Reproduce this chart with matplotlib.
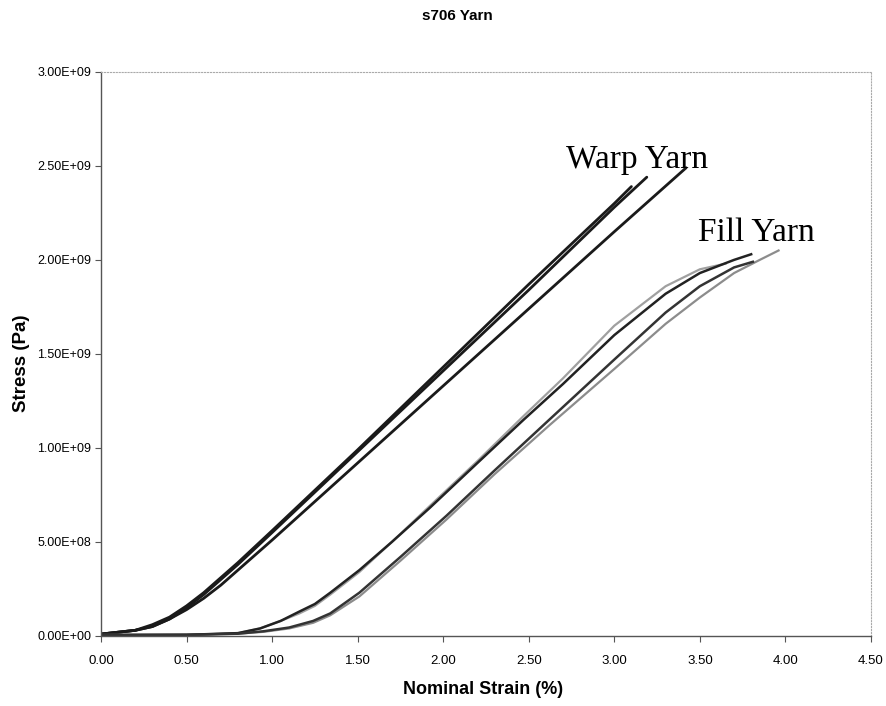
import numpy as np
import matplotlib
matplotlib.use("Agg")
import matplotlib.pyplot as plt
from matplotlib.ticker import FuncFormatter, MultipleLocator

# Warp yarn curves (strain %, stress in 1e9 Pa)
warp1_x = [0.0, 0.1, 0.2, 0.3, 0.4, 0.5, 0.6, 0.7, 0.8, 1.0, 1.5, 2.0, 2.5, 3.0, 3.10]
warp1_y = [0.01, 0.02, 0.03, 0.06, 0.10, 0.16, 0.23, 0.31, 0.39, 0.56, 0.99, 1.43, 1.87, 2.30, 2.39]
warp2_x = [0.0, 0.1, 0.2, 0.3, 0.4, 0.5, 0.6, 0.7, 0.8, 1.0, 1.5, 2.0, 2.5, 3.0, 3.19]
warp2_y = [0.01, 0.02, 0.03, 0.05, 0.09, 0.15, 0.22, 0.30, 0.38, 0.55, 0.98, 1.41, 1.84, 2.28, 2.44]
warp3_x = [0.0, 0.1, 0.2, 0.3, 0.4, 0.5, 0.6, 0.7, 0.8, 1.0, 1.5, 2.0, 2.5, 3.0, 3.42]
warp3_y = [0.01, 0.02, 0.03, 0.05, 0.09, 0.14, 0.20, 0.27, 0.35, 0.51, 0.92, 1.33, 1.74, 2.15, 2.49]

# Fill yarn curves
fill1_x = [0.0, 0.5, 0.8, 0.93, 1.05, 1.16, 1.25, 1.34, 1.51, 1.7, 1.92, 2.2, 2.47, 2.7, 3.0, 3.3, 3.5, 3.7, 3.80]
fill1_y = [0.005, 0.006, 0.015, 0.04, 0.08, 0.13, 0.17, 0.23, 0.35, 0.50, 0.68, 0.92, 1.15, 1.34, 1.60, 1.82, 1.93, 2.00, 2.03]
fill2_x = [0.0, 0.5, 0.8, 0.93, 1.05, 1.16, 1.25, 1.34, 1.51, 1.7, 1.92, 2.2, 2.47, 2.7, 3.0, 3.3, 3.5, 3.65]
fill2_y = [0.005, 0.006, 0.015, 0.04, 0.08, 0.12, 0.16, 0.22, 0.34, 0.50, 0.69, 0.93, 1.17, 1.37, 1.65, 1.86, 1.95, 1.98]
fill3_x = [0.0, 0.5, 0.8, 0.95, 1.1, 1.24, 1.34, 1.51, 1.75, 2.02, 2.3, 2.62, 3.0, 3.3, 3.5, 3.7, 3.81]
fill3_y = [0.005, 0.006, 0.012, 0.025, 0.045, 0.08, 0.12, 0.23, 0.42, 0.64, 0.88, 1.15, 1.47, 1.72, 1.86, 1.96, 1.99]
fill4_x = [0.0, 0.5, 0.8, 0.95, 1.1, 1.24, 1.34, 1.51, 1.75, 2.02, 2.3, 2.62, 3.0, 3.3, 3.5, 3.7, 3.85, 3.96]
fill4_y = [0.005, 0.006, 0.012, 0.022, 0.04, 0.07, 0.11, 0.21, 0.40, 0.62, 0.86, 1.12, 1.42, 1.66, 1.80, 1.93, 2.00, 2.05]

xticks = [0.0, 0.5, 1.0, 1.5, 2.0, 2.5, 3.0, 3.5, 4.0, 4.5]
yticks = [0.0, 0.5e9, 1.0e9, 1.5e9, 2.0e9, 2.5e9, 3.0e9]

plt.rcParams['font.family'] = ['Liberation Sans', 'DejaVu Sans']

fig = plt.figure(figsize=(8.86, 7.06), dpi=100)
ax = fig.add_axes([0.114, 0.0992, 0.869, 0.799])

# warp yarn
for xs, ys in [(warp1_x, warp1_y), (warp2_x, warp2_y), (warp3_x, warp3_y)]:
    ax.plot(xs, np.array(ys) * 1e9, color='#1a1a1a', lw=2.0, solid_capstyle='round')

# fill yarn
fills = [(fill2_x, fill2_y, '#a0a0a0', 1.6), (fill4_x, fill4_y, '#8c8c8c', 1.6),
         (fill1_x, fill1_y, '#222222', 1.8), (fill3_x, fill3_y, '#333333', 1.8)]
for xs, ys, c, lw in fills:
    ax.plot(xs, np.array(ys) * 1e9, color=c, lw=lw)

ax.set_xlim(0, 4.5)
ax.set_ylim(0, 3.0e9)
ax.set_xticks(xticks)
ax.set_yticks(yticks)
ax.xaxis.set_major_formatter(FuncFormatter(lambda v, p: f"{v:.2f}"))
ax.yaxis.set_major_formatter(FuncFormatter(lambda v, p: f"{v:.2E}"))
ax.tick_params(axis='x', direction='out', length=4, pad=10, labelsize=9.5, color='#555555')
ax.tick_params(axis='y', direction='out', length=4, pad=3, labelsize=9, color='#555555')

for side in ['left', 'bottom']:
    ax.spines[side].set_color('#555555')
    ax.spines[side].set_linewidth(1.0)
for side in ['top', 'right']:
    ax.spines[side].set_color('#aaaaaa')
    ax.spines[side].set_linestyle(':')
    ax.spines[side].set_linewidth(0.8)

ax.text(2.72, 2.49e9, 'Warp Yarn', family=['Liberation Serif', 'DejaVu Serif'],
        fontsize=24, va='baseline', ha='left')
ax.text(3.49, 2.10e9, 'Fill Yarn', family=['Liberation Serif', 'DejaVu Serif'],
        fontsize=24, va='baseline', ha='left')

fig.text(457 / 886, 1 - 16 / 706, 's706 Yarn', ha='center', va='center',
         fontsize=11, fontweight='bold')
fig.text(22 / 886, 1 - 363 / 706, 'Stress (Pa)', ha='center', va='center',
         rotation=90, fontsize=13.5, fontweight='bold')
fig.text(483 / 886, 1 - 690 / 706, 'Nominal Strain (%)', ha='center', va='center',
         fontsize=13, fontweight='bold')

fig.savefig('out.png', dpi=100)
